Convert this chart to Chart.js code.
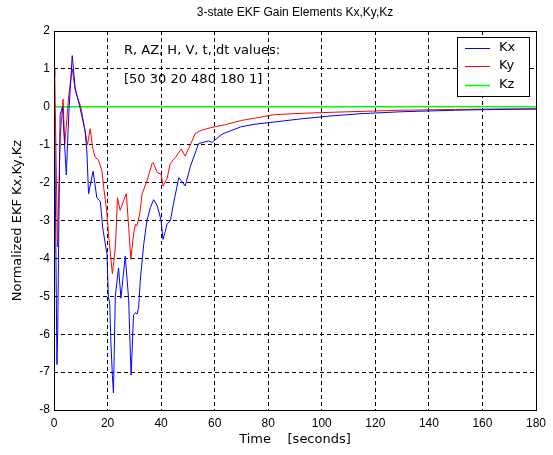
<!DOCTYPE html>
<html>
<head>
<meta charset="utf-8">
<script src="https://cdn.jsdelivr.net/npm/chart.js@4/dist/chart.umd.min.js"></script>
<style>
  body { margin: 0; background: #fff; }
  #wrap { width: 553px; height: 455px; }
</style>
</head>
<body>
<div id="wrap"><canvas id="chart" width="553" height="455"></canvas></div>
<script>
// values
let kxTime = [0, 0.15, 0.6, 1.1, 1.4, 1.7, 2.3, 3.2, 3.8, 4.6, 5.5, 6.8, 7.9, 9.8, 11.6, 12.3, 12.9, 14.6, 16.0, 17.3,
  18.2, 19.8, 20.3, 20.8, 21.3, 21.8, 22.2, 22.9, 24.1, 25.0, 26.6, 27.9, 28.5, 28.8, 29.7, 30.4, 31.0, 31.6, 32.2,
  33.5, 34.7, 36.0, 37.2, 38.5, 40.0, 40.7, 41.5, 42.2, 43.5, 44.5, 46.6, 47.5, 49.0, 51.0, 54.0, 57.8, 59.0, 62.8,
  69.7, 75, 80, 92, 103.5, 115, 130, 150, 165, 180];
let kxValue = [0.2, 0.1, -3.0, -6.8, -5.9, -3.8, -0.2, 0.0, -0.8, -1.8, -0.2, 1.35, 0.5, -0.05, -0.63, -1.2, -2.3, -1.7, -2.4, -2.5,
  -3.2, -3.9, -5.0, -5.2, -6.3, -7.1, -7.55, -5.0, -4.25, -5.05, -3.94, -5.1, -6.5, -7.08, -5.5, -5.43, -5.47, -5.3, -4.6,
  -3.63, -3.0, -2.66, -2.45, -2.6, -3.0, -3.5, -3.3, -3.1, -3.0, -2.6, -1.87, -1.95, -2.09, -1.56, -0.97, -0.9, -0.94, -0.72,
  -0.53, -0.46, -0.42, -0.32, -0.24, -0.18, -0.13, -0.09, -0.07, -0.06];

let kyTime = [0, 0.3, 0.8, 1.3, 1.6, 2.3, 3.4, 4.0, 4.6, 5.5, 6.8, 8.0, 10.0, 11.5, 12.5, 13.5, 14.5, 15.4, 16.6, 17.9,
  18.5, 19.7, 20.4, 21.8, 22.5, 23.0, 23.7, 24.7, 26.0, 27.0, 27.9, 28.7, 29.7, 30.4, 31.0, 32.0, 32.9, 34.7, 36.6,
  37.0, 38.5, 40.0, 40.7, 42.2, 43.4, 45.3, 47.5, 49.0, 51.0, 52.8, 55, 58.5, 64, 70, 75, 82, 90, 97, 115, 130, 150, 165, 180];
let kyValue = [1.0, 0.8, -1.5, -3.7, -2.7, -0.8, 0.2, -1.0, -0.5, 0.3, 1.0, 0.4, 0.0, -0.6, -1.0, -0.58, -1.1, -1.34, -1.4, -1.69,
  -2.1, -2.75, -3.4, -4.4, -4.0, -3.6, -2.4, -2.73, -2.48, -2.29, -3.19, -4.02, -3.36, -3.1, -3.14, -2.83, -2.3, -1.96, -1.5,
  -1.47, -1.73, -1.78, -2.09, -1.9, -1.5, -1.34, -1.12, -1.3, -0.99, -0.7, -0.62, -0.55, -0.47, -0.36, -0.3, -0.21, -0.18,
  -0.16, -0.12, -0.09, -0.07, -0.06, -0.05];

let kzTime = [0, 180];
let kzValue = [0, 0];

let seriesNames = ['Kx', 'Ky', 'Kz'];
let seriesColors = ['#0000ff', '#ff0000', '#00ff00'];
let seriesWidths = [1, 1, 1.6];

let titleText = '3-state EKF Gain Elements Kx,Ky,Kz';
let xTitle = 'Time    [seconds]';
let yTitle = 'Normalized EKF Kx,Ky,Kz';
let noteLines = ['R, AZ, H, V, t, dt values:', '[50 30 20 480 180 1]'];

let FONT = '"Liberation Sans", Arial, sans-serif';
let LABEL_FONT = '13px "DejaVu Sans", sans-serif';

function toPoints(t, v) {
  let pts = [];
  for (let i = 0; i < t.length; i++) pts.push({x: t[i], y: v[i]});
  return pts;
}

function makeSet(i, t, v) {
  return {
    label: seriesNames[i],
    data: toPoints(t, v),
    borderColor: seriesColors[i],
    borderWidth: seriesWidths[i],
    pointRadius: 0,
    fill: false,
    tension: 0
  };
}

// frame, texts and legend drawn on top
let decor = {
  id: 'decor',
  afterDraw: function(chart) {
    let ctx = chart.ctx;
    let a = chart.chartArea;
    ctx.save();
    ctx.strokeStyle = '#000';
    ctx.lineWidth = 1;
    ctx.setLineDash([]);
    ctx.strokeRect(Math.round(a.left) + 0.5, Math.round(a.top) + 0.5,
      Math.round(a.right - a.left), Math.round(a.bottom - a.top));

    ctx.fillStyle = '#000';
    ctx.textBaseline = 'middle';
    ctx.textAlign = 'center';
    ctx.font = '12px ' + FONT;
    ctx.fillText(titleText, (a.left + a.right) / 2, 13);
    ctx.font = LABEL_FONT;
    ctx.fillText(xTitle, (a.left + a.right) / 2, 440);

    ctx.save();
    ctx.translate(18, (a.top + a.bottom) / 2);
    ctx.rotate(-Math.PI / 2);
    ctx.fillText(yTitle, 0, 0);
    ctx.restore();

    ctx.textAlign = 'left';
    ctx.fillText(noteLines[0], 124, 51);
    ctx.fillText(noteLines[1], 124, 80);

    // legend box
    let lx = 457, ly = 37, lw = 72, lh = 59;
    ctx.fillStyle = '#fff';
    ctx.fillRect(lx, ly, lw, lh);
    ctx.strokeRect(lx + 0.5, ly + 0.5, lw, lh);
    let rows = [48, 66, 85];
    for (let i = 0; i < 3; i++) {
      ctx.strokeStyle = seriesColors[i];
      ctx.lineWidth = seriesWidths[i];
      ctx.beginPath();
      ctx.moveTo(465, rows[i] + 0.5);
      ctx.lineTo(490, rows[i] + 0.5);
      ctx.stroke();
      ctx.fillStyle = '#000';
      ctx.font = LABEL_FONT;
      ctx.fillText(seriesNames[i], 499, rows[i]);
    }
    ctx.restore();
  }
};

let ctx = document.getElementById('chart');
let chart = new Chart(ctx, {
  type: 'line',
  data: {
    datasets: [
      makeSet(0, kxTime, kxValue),
      makeSet(1, kyTime, kyValue),
      makeSet(2, kzTime, kzValue)
    ]
  },
  options: {
    responsive: false,
    animation: false,
    events: [],
    layout: { padding: { top: 31, right: 17, left: 0, bottom: 0 } },
    plugins: { legend: { display: false }, title: { display: false }, tooltip: { enabled: false } },
    scales: {
      x: {
        type: 'linear',
        min: 0, max: 180,
        afterFit: function(s) { s.height = 45; },
        ticks: { stepSize: 20, color: '#000', font: { family: FONT, size: 12 }, padding: 6, maxRotation: 0 },
        grid: { color: '#000', lineWidth: 1, drawTicks: false },
        border: { display: false, dash: [4, 3] }
      },
      y: {
        type: 'linear',
        min: -8, max: 2,
        afterFit: function(s) { s.width = 54; },
        ticks: { stepSize: 1, color: '#000', font: { family: FONT, size: 12 }, padding: 4 },
        grid: { color: '#000', lineWidth: 1, drawTicks: false },
        border: { display: false, dash: [4, 3] }
      }
    }
  },
  plugins: [decor]
});
</script>
</body>
</html>
